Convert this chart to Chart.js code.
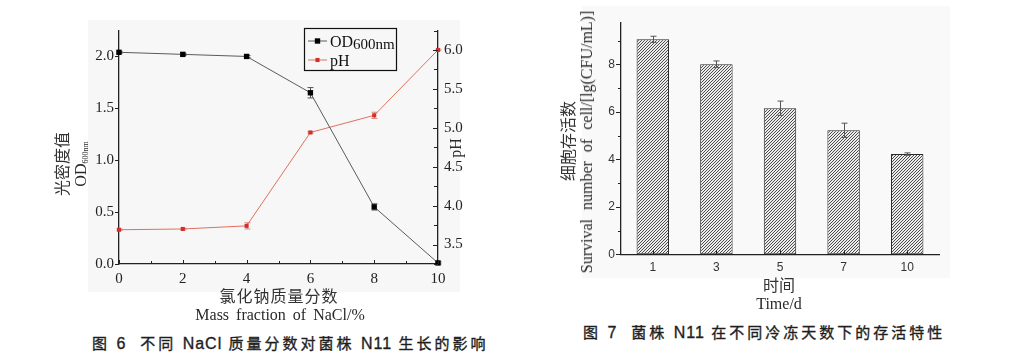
<!DOCTYPE html>
<html>
<head>
<meta charset="utf-8">
<script src="https://cdn.jsdelivr.net/npm/chart.js@4.4.1/dist/chart.umd.min.js"></script>
<style>
  html,body{margin:0;padding:0;background:#fff;}
  body{width:1030px;height:355px;position:relative;overflow:hidden;}
  .bg{position:absolute;}
  canvas{position:absolute;top:0;}
  .t{position:absolute;white-space:nowrap;transform:translate(-50%,-50%);color:#2a2a2a;line-height:1;}
  .r{transform:translate(-50%,-50%) rotate(-90deg);}
  .serif{font-family:"Liberation Serif","Noto Sans CJK SC",serif;font-size:16px;}
  .cjk{font-family:"Noto Sans CJK SC",sans-serif;font-size:15px;color:#333;}
  .cap{position:absolute;white-space:nowrap;font-family:"Noto Sans CJK SC",sans-serif;font-size:15px;font-weight:400;color:#1e1e1e;letter-spacing:3px;transform:translateY(-50%);line-height:1;-webkit-text-stroke:0.35px #1e1e1e;}
  .lat{letter-spacing:1px;font-family:"Liberation Sans","Noto Sans CJK SC",sans-serif;font-size:16px;}
  sub{font-size:8px;vertical-align:-2px;}
</style>
</head>
<body>
<div class="bg" style="left:88px;top:20px;width:372px;height:272px;background:#f7f7f7"></div>
<div class="bg" style="left:582px;top:6px;width:368px;height:272px;background:#f9f9f9"></div>
<canvas id="left" width="470" height="300" style="left:0"></canvas>
<canvas id="right" width="510" height="300" style="left:520px"></canvas>

<!-- left chart titles -->
<div class="t r cjk" style="left:61px;top:164px;font-size:16px">光密度值</div>
<div class="t r serif" style="left:81px;top:164px">OD<sub>600nm</sub></div>
<div class="t r serif" style="left:456px;top:148px">pH</div>
<div class="t cjk" style="left:279px;top:295px;font-size:16px;letter-spacing:1px">氯化钠质量分数</div>
<div class="t serif" style="left:280px;top:315px;word-spacing:3px">Mass fraction of NaCl/%</div>
<div class="cap" style="left:92px;top:343px">图 <span class="lat">6</span><span style="margin-left:14px">不同 <span class="lat">NaCl</span> 质量分数对菌株 <span class="lat">N11</span> 生长的影响</span></div>

<!-- right chart titles -->
<div class="t r cjk" style="left:567px;top:141px;font-size:16px">细胞存活数</div>
<div class="t r serif" style="left:587px;top:142px;word-spacing:5px">Survival number of cell/[lg(CFU/mL)]</div>
<div class="t cjk" style="left:779px;top:284px;font-size:16px">时间</div>
<div class="t serif" style="left:779px;top:304px">Time/d</div>
<div class="cap" style="left:583px;top:332px">图 <span class="lat">7</span><span style="margin-left:14px">菌株 <span class="lat">N11</span> 在不同冷冻天数下的存活特性</span></div>

<script>
// ---------- data: figure 6 ----------
const naclFractions = [0, 2, 4, 6, 8, 10];
const odValues      = [2.04, 2.02, 2.00, 1.65, 0.55, 0.01];
const odErrors      = [0.01, 0.01, 0.01, 0.05, 0.03, 0.01];
const phValues      = [3.69, 3.70, 3.74, 4.94, 5.16, 6.00];
const phErrors      = [0.01, 0.01, 0.04, 0.01, 0.04, 0.01];
const naclTicks     = [0, 2, 4, 6, 8, 10];
const odTicks       = [0, 0.5, 1.0, 1.5, 2.0];
const phTicks       = [3.5, 4.0, 4.5, 5.0, 5.5, 6.0];

// ---------- data: figure 7 ----------
const days          = ['1', '3', '5', '7', '10'];
const survival      = [9.05, 8.00, 6.15, 5.22, 4.22];
const survivalErr   = [0.13, 0.14, 0.30, 0.30, 0.05];
const survivalTicks = [0, 2, 4, 6, 8];

const setTicks = arr => s => { s.ticks = arr.map(v => ({ value: v })); };

// error bars
const errorBarPlugin = {
  id: 'errorBars',
  draw(chart) {
    const ctx = chart.ctx;
    chart.data.datasets.forEach((ds, di) => {
      if (!ds.errors) return;
      const meta = chart.getDatasetMeta(di);
      const ys = chart.scales[meta.yAxisID];
      ctx.save();
      ctx.strokeStyle = ds.errorColor || '#444';
      ctx.lineWidth = 1;
      meta.data.forEach((el, i) => {
        const d = ds.data[i];
        const v = typeof d === 'object' ? d.y : d;
        const e = ds.errors[i];
        const x = Math.round(el.x) + 0.5;
        const y1 = ys.getPixelForValue(v + e), y2 = ys.getPixelForValue(v - e);
        const c = ds.errorCap || 3;
        ctx.beginPath();
        ctx.moveTo(x, y1); ctx.lineTo(x, y2);
        ctx.moveTo(x - c, y1); ctx.lineTo(x + c, y1);
        ctx.moveTo(x - c, y2); ctx.lineTo(x + c, y2);
        ctx.stroke();
      });
      ctx.restore();
    });
  },
  beforeDatasetsDraw(chart, a, o) { if (o.before) this.draw(chart); },
  afterDatasetsDraw(chart, a, o) { if (!o.before) this.draw(chart); }
};

// tick marks (major + minor, inward/outward)
const tickMarkPlugin = {
  id: 'tickMarks',
  afterDraw(chart, args, opts) {
    const ctx = chart.ctx, ca = chart.chartArea;
    ctx.save();
    ctx.strokeStyle = opts.color || '#222';
    ctx.lineWidth = 1;
    Object.keys(opts).forEach(key => {
      const o = opts[key];
      if (typeof o !== 'object') return;
      const s = chart.scales[key];
      if (!s) return;
      const marks = [];
      s.ticks.forEach((t, i) => marks.push([s.getPixelForTick(i), o.len]));
      if (o.minor) {
        const vals = s.ticks.map(t => t.value);
        const step = vals[1] - vals[0];
        const cand = [vals[0] - step / 2];
        vals.forEach(v => cand.push(v + step / 2));
        cand.forEach(v => { if (v >= s.min - 1e-9 && v <= s.max + 1e-9) marks.push([s.getPixelForValue(v), o.minorLen]); });
      }
      marks.forEach(([p, len]) => {
        const q = Math.round(p) + 0.5;
        ctx.beginPath();
        if (s.isHorizontal()) {
          const y = ca.bottom;
          ctx.moveTo(q, y); ctx.lineTo(q, o.dir === 'in' ? y - len : y + len);
        } else {
          const atLeft = s.position === 'left';
          const x = atLeft ? ca.left : ca.right;
          const sign = (atLeft ? 1 : -1) * (o.dir === 'in' ? 1 : -1);
          ctx.moveTo(x, q); ctx.lineTo(x + sign * len, q);
        }
        ctx.stroke();
      });
    });
    ctx.restore();
  }
};

// legend box drawn inside the plot (Origin style)
const boxLegendPlugin = {
  id: 'boxLegend',
  afterDraw(chart, args, o) {
    if (!o.show) return;
    const ctx = chart.ctx, ca = chart.chartArea;
    const left = ca.right - 134, top = ca.top - 2.5, w = 92, h = 42;
    ctx.save();
    ctx.strokeStyle = '#111'; ctx.lineWidth = 1.2;
    ctx.strokeRect(Math.round(left) + 0.5, Math.round(top) + 0.5, w, h);
    chart.data.datasets.forEach((ds, i) => {
      const y = top + 13 + i * 19;
      ctx.strokeStyle = ds.borderColor; ctx.lineWidth = 1;
      ctx.beginPath(); ctx.moveTo(left + 4, y); ctx.lineTo(left + 23, y); ctx.stroke();
      const side = ds.pointRadius * Math.SQRT1_2;
      ctx.fillStyle = ds.pointBackgroundColor;
      ctx.fillRect(left + 13.5 - side, y - side, side * 2, side * 2);
      ctx.fillStyle = '#111';
      ctx.textBaseline = 'alphabetic';
      ctx.font = '16px "Liberation Serif"';
      const parts = ds.legendParts;
      ctx.fillText(parts[0], left + 26, y + 5.5);
      if (parts[1]) {
        const wd = ctx.measureText(parts[0]).width;
        ctx.font = '15px "Liberation Serif"';
        ctx.fillText(parts[1], left + 26 + wd, y + 8);
      }
    });
    ctx.restore();
  }
};

const serifTick = { family: 'Liberation Serif', size: 15 };
const sansTick = { family: 'Liberation Sans', size: 12 };

// ---------- figure 6 ----------
new Chart(document.getElementById('left'), {
  type: 'line',
  data: {
    datasets: [
      {
        label: 'OD600nm', legendParts: ['OD', '600nm'],
        data: naclFractions.map((x, i) => ({ x, y: odValues[i] })),
        yAxisID: 'yOD',
        borderColor: '#5a5a5a', borderWidth: 1,
        pointStyle: 'rect', pointRadius: 3.8,
        pointBackgroundColor: '#000', pointBorderColor: '#000', pointBorderWidth: 0,
        errors: odErrors, errorColor: '#555', errorCap: 3,
        tension: 0, clip: false
      },
      {
        label: 'pH', legendParts: ['pH'],
        data: naclFractions.map((x, i) => ({ x, y: phValues[i] })),
        yAxisID: 'yPH',
        borderColor: '#e0705c', borderWidth: 1,
        pointStyle: 'rect', pointRadius: 2.9,
        pointBackgroundColor: '#d42f2f', pointBorderColor: '#d42f2f', pointBorderWidth: 0,
        errors: phErrors, errorColor: '#d98a80', errorCap: 3,
        tension: 0, clip: false
      }
    ]
  },
  options: {
    responsive: false, animation: false, events: [],
    layout: { padding: { left: 0, right: 0, top: 30.5, bottom: 6 } },
    scales: {
      x: {
        type: 'linear', min: 0, max: 10,
        afterBuildTicks: setTicks(naclTicks),
        afterFit: s => { s.height = 30; },
        grid: { display: false, drawTicks: false },
        border: { color: '#222', width: 1.3 },
        ticks: { font: serifTick, color: '#222', padding: 6, maxRotation: 0 }
      },
      yOD: {
        type: 'linear', position: 'left', min: 0, max: 2.25,
        afterBuildTicks: setTicks(odTicks),
        afterFit: s => { s.width = 119; },
        grid: { display: false, drawTicks: false },
        border: { color: '#222', width: 1.3 },
        ticks: { font: serifTick, color: '#222', padding: 5, callback: v => Number(v).toFixed(1) }
      },
      yPH: {
        type: 'linear', position: 'right', min: 3.25, max: 6.25,
        afterBuildTicks: setTicks(phTicks),
        afterFit: s => { s.width = 32; },
        grid: { display: false, drawTicks: false },
        border: { color: '#222', width: 1.3 },
        ticks: { font: serifTick, color: '#222', padding: 6, callback: v => Number(v).toFixed(1) }
      }
    },
    plugins: {
      legend: { display: false }, tooltip: { enabled: false },
      errorBars: { before: true },
      boxLegend: { show: true },
      tickMarks: {
        x: { dir: 'in', len: 4, minor: true, minorLen: 3 },
        yOD: { dir: 'out', len: 4, minor: false },
        yPH: { dir: 'in', len: 5, minor: true, minorLen: 4 }
      }
    }
  },
  plugins: [errorBarPlugin, tickMarkPlugin, boxLegendPlugin]
});

// ---------- figure 7 ----------
function hatchPattern() {
  const n = 3;
  const c = document.createElement('canvas');
  c.width = n; c.height = n;
  const g = c.getContext('2d');
  g.fillStyle = '#ececec'; g.fillRect(0, 0, n, n);
  g.strokeStyle = '#3a3a3a'; g.lineWidth = 0.9;
  g.beginPath();
  g.moveTo(0, n); g.lineTo(n, 0);
  g.moveTo(-1, 1); g.lineTo(1, -1);
  g.moveTo(n - 1, n + 1); g.lineTo(n + 1, n - 1);
  g.stroke();
  return g.createPattern(c, 'repeat');
}

new Chart(document.getElementById('right'), {
  type: 'bar',
  data: {
    labels: days,
    datasets: [{
      data: survival,
      errors: survivalErr, errorColor: '#555', errorCap: 3,
      backgroundColor: hatchPattern(),
      borderColor: '#2a2a2a', borderWidth: 1, borderSkipped: false,
      barPercentage: 0.51, categoryPercentage: 1
    }]
  },
  options: {
    responsive: false, animation: false, events: [],
    layout: { padding: { left: 0, right: 91, top: 22.7, bottom: 15.7 } },
    scales: {
      x: {
        afterFit: s => { s.height = 30; },
        grid: { display: false, drawTicks: false },
        border: { color: '#222', width: 1.3 },
        ticks: { font: sansTick, color: '#333', padding: 6, maxRotation: 0 }
      },
      y: {
        min: 0, max: 9.75,
        afterBuildTicks: setTicks(survivalTicks),
        afterFit: s => { s.width = 101; },
        grid: { display: false, drawTicks: false },
        border: { color: '#222', width: 1.3 },
        ticks: { font: sansTick, color: '#333', padding: 6 }
      }
    },
    plugins: {
      legend: { display: false }, tooltip: { enabled: false },
      errorBars: { before: false },
      tickMarks: {
        x: { dir: 'in', len: 4, minor: false },
        y: { dir: 'out', len: 5, minor: true, minorLen: 3 }
      }
    }
  },
  plugins: [errorBarPlugin, tickMarkPlugin]
});
</script>
</body>
</html>
